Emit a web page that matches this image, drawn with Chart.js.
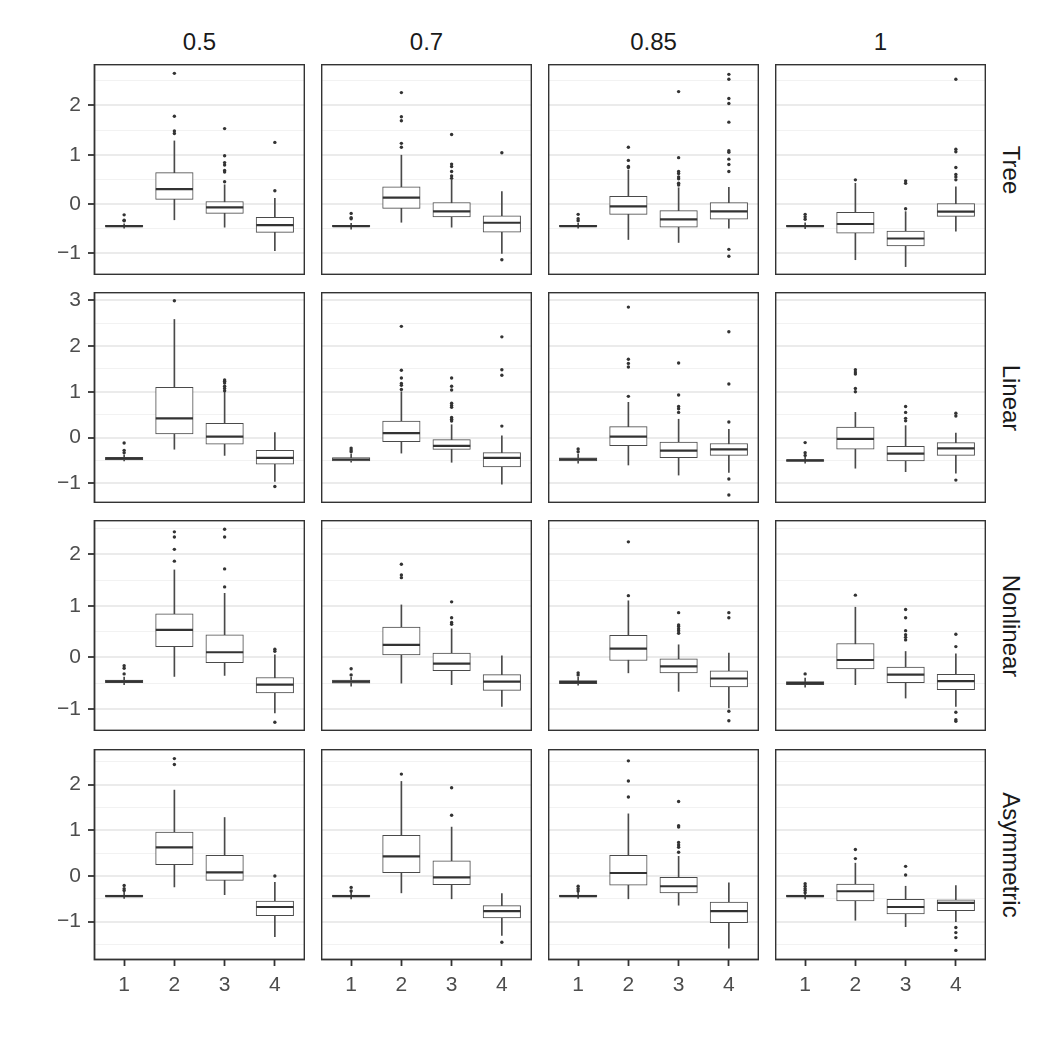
<!DOCTYPE html>
<html>
<head>
<meta charset="utf-8">
<script src="https://cdn.jsdelivr.net/npm/chart.js@4.4.1/dist/chart.umd.min.js"></script>
<style>
  body { margin: 0; background: #fff; width: 1050px; height: 1050px; position: relative; overflow: hidden;
         font-family: "Liberation Sans", Arial, sans-serif; }
  .panel { position: absolute; }
  .strip-top { position: absolute; top: 27px; width: 211px; text-align: center; font-size: 24px; color: #1a1a1a; line-height: 30px; }
  .strip-right { position: absolute; width: 211px; text-align: center; font-size: 24px; color: #1a1a1a; line-height: 30px;
                 transform-origin: center center; transform: rotate(90deg); }
</style>
</head>
<body>
<script>
// facet labels
const colLabels = ['0.5', '0.7', '0.85', '1'];
const rowLabels = ['Tree', 'Linear', 'Nonlinear', 'Asymmetric'];
const categories = [1, 2, 3, 4];
const xTickLabels = ['1', '2', '3', '4'];
// y range of each row (free y scales)
const rowRanges = [[-1.44, 2.84], [-1.43, 3.18], [-1.43, 2.67], [-1.84, 2.78]];

// box stats per category: [lower whisker, q1, median, q3, upper whisker]; outliers listed separately
const tree05Box = [[-0.49, -0.465, -0.45, -0.435, -0.40], [-0.32, 0.095, 0.30, 0.635, 1.28], [-0.47, -0.19, -0.07, 0.05, 0.39], [-0.945, -0.575, -0.43, -0.27, 0.115]];
const tree05Out = [[-0.34, -0.33, -0.22], [1.43, 1.48, 1.78, 2.65], [0.45, 0.65, 0.68, 0.79, 0.84, 0.98, 1.53], [0.27, 1.25]];
const tree07Box = [[-0.51, -0.46, -0.45, -0.435, -0.39], [-0.37, -0.09, 0.13, 0.35, 0.99], [-0.47, -0.26, -0.15, 0.03, 0.48], [-1.0, -0.57, -0.38, -0.24, 0.25]];
const tree07Out = [[-0.30, -0.28, -0.19], [1.15, 1.23, 1.69, 1.77, 2.26], [0.52, 0.57, 0.66, 0.76, 0.81, 1.41], [-1.13, 1.04]];
const tree085Box = [[-0.49, -0.46, -0.45, -0.435, -0.39], [-0.72, -0.21, -0.05, 0.155, 0.69], [-0.78, -0.47, -0.31, -0.135, 0.33], [-0.49, -0.31, -0.15, 0.027, 0.34]];
const tree085Out = [[-0.34, -0.30, -0.21], [0.74, 0.76, 0.885, 1.15], [0.385, 0.42, 0.51, 0.55, 0.62, 0.66, 0.94, 2.28], [-1.06, -0.92, 0.66, 0.80, 0.91, 1.05, 1.08, 1.66, 2.04, 2.14, 2.53, 2.63]];
const tree1Box = [[-0.50, -0.46, -0.45, -0.435, -0.38], [-1.13, -0.59, -0.405, -0.17, 0.42], [-1.27, -0.85, -0.70, -0.55, -0.155], [-0.55, -0.25, -0.155, 0.007, 0.35]];
const tree1Out = [[-0.31, -0.26, -0.21], [0.49], [-0.095, 0.42, 0.47], [0.49, 0.55, 0.60, 0.74, 1.06, 1.11, 2.53]];

const lin05Box = [[-0.51, -0.49, -0.46, -0.43, -0.38], [-0.255, 0.08, 0.42, 1.095, 2.58], [-0.39, -0.146, 0.02, 0.31, 1.0], [-0.96, -0.58, -0.445, -0.28, 0.11]];
const lin05Out = [[-0.33, -0.28, -0.12], [2.99], [1.02, 1.07, 1.12, 1.19, 1.23, 1.26], [-1.07]];
const lin07Box = [[-0.54, -0.51, -0.48, -0.44, -0.36], [-0.34, -0.09, 0.095, 0.36, 1.0], [-0.54, -0.26, -0.18, -0.045, 0.28], [-1.02, -0.64, -0.445, -0.33, 0.04]];
const lin07Out = [[-0.31, -0.27, -0.23], [1.05, 1.14, 1.18, 1.30, 1.47, 2.43], [0.36, 0.40, 0.44, 0.66, 0.70, 0.75, 1.04, 1.12, 1.30], [0.25, 1.36, 1.48, 2.2]];
const lin085Box = [[-0.56, -0.51, -0.475, -0.445, -0.36], [-0.60, -0.175, 0.02, 0.24, 0.77], [-0.82, -0.44, -0.285, -0.10, 0.40], [-0.76, -0.39, -0.26, -0.13, 0.18]];
const lin085Out = [[-0.31, -0.25], [0.90, 1.54, 1.62, 1.71, 2.85], [0.55, 0.63, 0.68, 0.93, 1.63], [-1.255, -0.905, 0.34, 1.17, 2.31]];
const lin1Box = [[-0.56, -0.52, -0.50, -0.48, -0.42], [-0.67, -0.255, -0.03, 0.23, 0.55], [-0.745, -0.51, -0.35, -0.19, 0.26], [-0.78, -0.39, -0.235, -0.11, 0.095]];
const lin1Out = [[-0.39, -0.33, -0.11], [1.0, 1.07, 1.39, 1.43, 1.48], [0.365, 0.42, 0.55, 0.68], [-0.93, 0.47, 0.53]];

const nonlin05Box = [[-0.53, -0.49, -0.465, -0.44, -0.38], [-0.37, 0.21, 0.535, 0.845, 1.70], [-0.35, -0.10, 0.10, 0.44, 1.245], [-1.08, -0.69, -0.53, -0.39, 0.05]];
const nonlin05Out = [[-0.32, -0.21, -0.16], [1.87, 2.10, 2.34, 2.44], [1.37, 1.72, 2.34, 2.49], [-1.26, 0.12, 0.16]];
const nonlin07Box = [[-0.56, -0.50, -0.47, -0.44, -0.38], [-0.50, 0.05, 0.245, 0.59, 1.02], [-0.53, -0.26, -0.12, 0.085, 0.555], [-0.95, -0.64, -0.47, -0.335, 0.03]];
const nonlin07Out = [[-0.34, -0.22], [1.55, 1.60, 1.81], [0.645, 0.68, 0.77, 1.08], []];
const nonlin085Box = [[-0.54, -0.51, -0.48, -0.45, -0.38], [-0.30, -0.06, 0.17, 0.43, 1.10], [-0.66, -0.30, -0.175, -0.03, 0.245], [-0.98, -0.575, -0.41, -0.26, 0.085]];
const nonlin085Out = [[-0.34, -0.30], [1.20, 2.245], [0.47, 0.52, 0.555, 0.60, 0.63, 0.87], [-1.23, -1.045, 0.77, 0.87]];
const nonlin1Box = [[-0.58, -0.53, -0.50, -0.47, -0.40], [-0.53, -0.225, -0.05, 0.27, 0.975], [-0.79, -0.49, -0.335, -0.19, 0.115], [-0.95, -0.625, -0.46, -0.33, 0.07]];
const nonlin1Out = [[-0.32], [1.21], [0.34, 0.39, 0.44, 0.52, 0.77, 0.93], [-1.24, -1.21, -1.065, 0.21, 0.45]];

const asym05Box = [[-0.49, -0.46, -0.44, -0.42, -0.36], [-0.24, 0.25, 0.625, 0.96, 1.88], [-0.41, -0.095, 0.08, 0.45, 1.28], [-1.33, -0.87, -0.68, -0.55, -0.14]];
const asym05Out = [[-0.32, -0.28, -0.21], [2.44, 2.57], [], [0.0]];
const asym07Box = [[-0.50, -0.46, -0.44, -0.42, -0.36], [-0.37, 0.07, 0.43, 0.89, 2.07], [-0.50, -0.19, -0.03, 0.33, 1.07], [-1.30, -0.92, -0.77, -0.65, -0.385]];
const asym07Out = [[-0.33, -0.25], [2.23], [1.33, 1.93], [-1.45]];
const asym085Box = [[-0.49, -0.46, -0.44, -0.42, -0.36], [-0.50, -0.20, 0.065, 0.45, 1.36], [-0.64, -0.37, -0.225, -0.03, 0.43], [-1.58, -1.025, -0.77, -0.57, -0.15]];
const asym085Out = [[-0.33, -0.28, -0.225], [1.73, 2.08, 2.52], [0.52, 0.63, 0.68, 0.735, 1.07, 1.10, 1.63], []];
const asym1Box = [[-0.50, -0.46, -0.44, -0.42, -0.40], [-0.97, -0.545, -0.335, -0.18, 0.28], [-1.11, -0.83, -0.68, -0.51, -0.225], [-1.0, -0.76, -0.59, -0.52, -0.21]];
const asym1Out = [[-0.37, -0.32, -0.28, -0.225, -0.17], [0.38, 0.58], [0.02, 0.21], [-1.63, -1.35, -1.24, -1.13]];

const boxGrid = [
    [tree05Box, tree07Box, tree085Box, tree1Box],
    [lin05Box, lin07Box, lin085Box, lin1Box],
    [nonlin05Box, nonlin07Box, nonlin085Box, nonlin1Box],
    [asym05Box, asym07Box, asym085Box, asym1Box]
];
const outGrid = [
    [tree05Out, tree07Out, tree085Out, tree1Out],
    [lin05Out, lin07Out, lin085Out, lin1Out],
    [nonlin05Out, nonlin07Out, nonlin085Out, nonlin1Out],
    [asym05Out, asym07Out, asym085Out, asym1Out]
];

// layout
const panelLeft = [94, 321, 548, 775];
const panelTop = [64, 292, 520, 749];
const panelSize = 211;
const yAxisW = 52;
const xAxisH = 45;
const fontFamily = '"Liberation Sans", Arial, sans-serif';
const ink = '#333333';

const isMajor = v => Math.abs(v - Math.round(v)) < 1e-6;

// panel border on top of everything
const borderPlugin = {
    id: 'panelBorder',
    afterDatasetsDraw(chart) {
        const a = chart.chartArea, ctx = chart.ctx;
        ctx.save();
        ctx.strokeStyle = ink;
        ctx.lineWidth = 1.8;
        ctx.strokeRect(a.left + 0.5, a.top + 0.5, a.right - a.left - 1, a.bottom - a.top - 1);
        ctx.restore();
    }
};

function makePanel(r, c) {
    const stats = boxGrid[r][c];
    const outs = outGrid[r][c];

    const div = document.createElement('div');
    div.className = 'panel';
    const left = panelLeft[c] - (c === 0 ? yAxisW : 0);
    const w = panelSize + (c === 0 ? yAxisW : 0);
    const h = panelSize + (r === 3 ? xAxisH : 0);
    div.style.left = left + 'px';
    div.style.top = panelTop[r] + 'px';
    div.style.width = w + 'px';
    div.style.height = h + 'px';
    const cv = document.createElement('canvas');
    div.appendChild(cv);
    document.body.appendChild(div);

    const outlierPoints = [];
    outs.forEach((list, i) => list.forEach(v => outlierPoints.push({ x: categories[i], y: v })));

    new Chart(cv.getContext('2d'), {
        type: 'bar',
        data: {
            datasets: [
                {
                    type: 'scatter',
                    data: outlierPoints,
                    pointRadius: 1.7,
                    pointBackgroundColor: ink,
                    pointBorderWidth: 0,
                    order: 0
                },
                {
                    type: 'scatter',
                    data: stats.map((s, i) => ({ x: categories[i], y: s[2] })),
                    pointStyle: 'line',
                    pointRadius: 18.6,
                    pointBorderColor: ink,
                    pointBorderWidth: 2.2,
                    order: 1
                },
                {
                    type: 'bar',
                    data: stats.map((s, i) => ({ x: categories[i], y: [s[1], s[3]] })),
                    backgroundColor: '#ffffff',
                    borderColor: '#4a4a4a',
                    borderWidth: 1,
                    borderSkipped: false,
                    barThickness: 37.5,
                    grouped: false,
                    order: 2
                },
                {
                    type: 'bar',
                    data: stats.map((s, i) => ({ x: categories[i], y: [s[0], s[4]] })),
                    backgroundColor: '#4a4a4a',
                    barThickness: 1,
                    grouped: false,
                    order: 3
                }
            ]
        },
        options: {
            responsive: true,
            maintainAspectRatio: false,
            animation: false,
            events: [],
            layout: { padding: 0, autoPadding: false },
            plugins: { legend: { display: false }, tooltip: { enabled: false } },
            scales: {
                x: {
                    type: 'linear',
                    min: 0.4,
                    max: 4.6,
                    offset: false,
                    afterFit: s => { s.height = r === 3 ? xAxisH : 0; s.paddingLeft = 0; s.paddingRight = 0; },
                    afterBuildTicks: s => { s.ticks = categories.map(v => ({ value: v })); },
                    ticks: {
                        display: r === 3,
                        autoSkip: false,
                        maxRotation: 0,
                        padding: 7,
                        color: '#4d4d4d',
                        font: { family: fontFamily, size: 21 },
                        callback: v => xTickLabels[categories.indexOf(v)] ?? ''
                    },
                    grid: { offset: false, drawOnChartArea: false, drawTicks: r === 3, tickLength: 6, tickColor: ink, tickWidth: 1.8 },
                    border: { display: false }
                },
                y: {
                    min: rowRanges[r][0],
                    max: rowRanges[r][1],
                    afterFit: s => { s.width = c === 0 ? yAxisW : 0; s.paddingTop = 0; s.paddingBottom = 0; },
                    ticks: {
                        display: c === 0,
                        stepSize: 0.5,
                        includeBounds: false,
                        autoSkip: false,
                        padding: 7,
                        color: '#4d4d4d',
                        font: { family: fontFamily, size: 21 },
                        callback: v => isMajor(v) ? String(Math.round(v)).replace('-', '\u2212') : ''
                    },
                    grid: {
                        color: ctx => isMajor(ctx.tick.value) ? '#ebebeb' : '#f2f2f2',
                        lineWidth: ctx => isMajor(ctx.tick.value) ? 2 : 1,
                        drawTicks: c === 0,
                        tickLength: 6,
                        tickColor: ctx => isMajor(ctx.tick.value) ? ink : 'rgba(0,0,0,0)',
                        tickWidth: 1.8
                    },
                    border: { display: false }
                }
            }
        },
        plugins: [borderPlugin]
    });
}

// strip labels
colLabels.forEach((t, c) => {
    const d = document.createElement('div');
    d.className = 'strip-top';
    d.style.left = panelLeft[c] + 'px';
    d.textContent = t;
    document.body.appendChild(d);
});
rowLabels.forEach((t, r) => {
    const d = document.createElement('div');
    d.className = 'strip-right';
    d.style.left = (1010 - panelSize / 2) + 'px';
    d.style.top = (panelTop[r] + panelSize / 2 - 15) + 'px';
    d.textContent = t;
    document.body.appendChild(d);
});

for (let r = 0; r < 4; r++) {
    for (let c = 0; c < 4; c++) makePanel(r, c);
}
</script>
</body>
</html>
